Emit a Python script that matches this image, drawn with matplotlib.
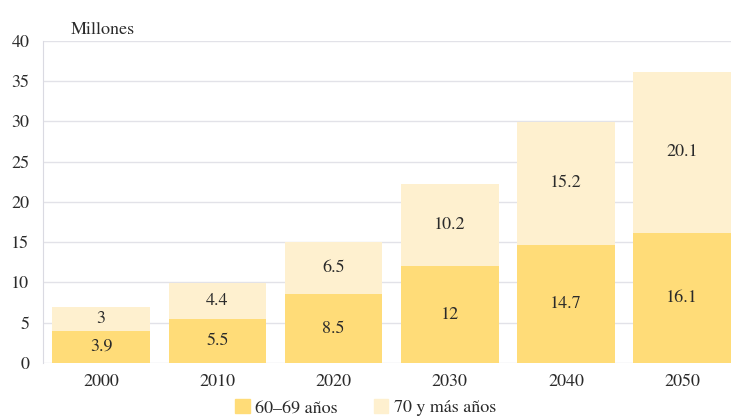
import numpy as np
import matplotlib.pyplot as plt
from matplotlib.patches import Patch

plt.rcParams['font.family'] = 'serif'
plt.rcParams['font.serif'] = ['STIXGeneral', 'DejaVu Serif']

years = ['2000', '2010', '2020', '2030', '2040', '2050']
edad_60_69 = [3.9, 5.5, 8.5, 12, 14.7, 16.1]
edad_70_mas = [3, 4.4, 6.5, 10.2, 15.2, 20.1]
lbl_60_69 = ['3.9', '5.5', '8.5', '12', '14.7', '16.1']
lbl_70_mas = ['3', '4.4', '6.5', '10.2', '15.2', '20.1']

c_low = '#FFDC78'
c_high = '#FEF0CF'
fs = 13
fam = 'STIXGeneral'

fig = plt.figure(figsize=(7.31, 4.18), dpi=100)
ax = fig.add_axes([0.059, 0.132, 0.941, 0.77])

x = np.arange(len(years))
w = 0.84
ax.bar(x, edad_60_69, w, color=c_low, zorder=2)
ax.bar(x, edad_70_mas, w, bottom=edad_60_69, color=c_high, zorder=2)

for i in range(len(years)):
    ax.text(x[i], edad_60_69[i] / 2, lbl_60_69[i], ha='center', va='center',
            fontsize=fs, color='#2a2a2a', zorder=3, family=fam)
    ax.text(x[i], edad_60_69[i] + edad_70_mas[i] / 2, lbl_70_mas[i], ha='center',
            va='center', fontsize=fs, color='#2a2a2a', zorder=3, family=fam)

ax.set_xlim(-0.5, 5.42)
ax.set_ylim(0, 40)
ax.set_yticks(range(0, 41, 5))
ax.set_xticks(x)
ax.set_xticklabels(years, family=fam)
ax.set_yticklabels([str(v) for v in range(0, 41, 5)], family=fam)
ax.yaxis.grid(True, color='#E2E2E8', linewidth=1, zorder=0)
ax.set_axisbelow(True)
for s in ['top', 'right', 'bottom']:
    ax.spines[s].set_visible(False)
ax.spines['left'].set_color('#DADAE2')
ax.tick_params(axis='both', length=0, labelsize=fs, colors='#2a2a2a')
ax.tick_params(axis='x', pad=8)
ax.tick_params(axis='y', pad=10)

ax.text(0.04, 1.01, 'Millones', transform=ax.transAxes, fontsize=fs,
        color='#2a2a2a', va='bottom', ha='left', family=fam)

handles = [Patch(color=c_low, label='60–69 años'), Patch(color=c_high, label='70 y más años')]
fig.legend(handles=handles, loc='lower center', bbox_to_anchor=(0.5, -0.035), ncol=2,
           frameon=False, handlelength=0.8, handleheight=0.8,
           columnspacing=2.0, handletextpad=0.3, labelcolor='#2a2a2a',
           prop={'family': fam, 'size': fs})

fig.savefig('out.png', dpi=100)
